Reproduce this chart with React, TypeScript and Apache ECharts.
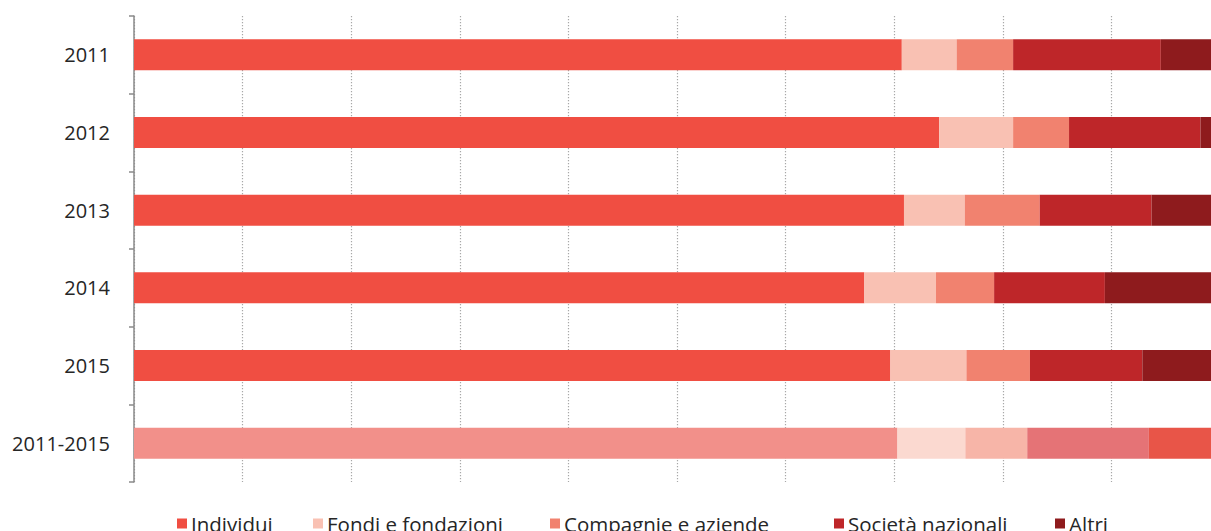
import React, { useEffect, useRef } from "react";
import * as echarts from "echarts";

const categories = ["2011", "2012", "2013", "2014", "2015", "2011-2015"];
const seriesNames = ["Individui", "Fondi e fondazioni", "Compagnie e aziende", "Società nazionali", "Altri"];
const individui = [70.7, 74.15, 70.9, 67.25, 69.65, 70.3];
const fondi = [5.05, 6.8, 5.6, 6.6, 7.0, 6.25];
const compagnie = [5.2, 5.15, 6.9, 5.35, 5.85, 5.7];
const societa = [13.6, 12.1, 10.3, 10.2, 10.35, 11.2];
const altri = [5.45, 1.8, 6.3, 10.6, 7.15, 6.55];
const xTicks = [0, 10, 20, 30, 40, 50, 60, 70, 80, 90, 100];

const mainColors = ["#F04E42", "#F9C1B3", "#F1826F", "#BE2629", "#8E1B1D"];
const summaryColors = ["#F2908A", "#FBD9D0", "#F7B5A8", "#E57376", "#E85548"];
const legendLeft = [177, 313, 550, 834, 1055];

export default function App() {
  const ref = useRef<HTMLDivElement>(null);
  useEffect(() => {
    if (!ref.current) return;
    const chart = echarts.init(ref.current, null, { renderer: "svg" });
    const values = [individui, fondi, compagnie, societa, altri];
    const font = "'Open Sans', sans-serif";
    chart.setOption({
      animation: false,
      backgroundColor: "#ffffff",
      grid: { left: 134, right: 0, top: 16, bottom: 49, containLabel: false },
      xAxis: {
        type: "value",
        min: xTicks[0],
        max: xTicks[xTicks.length - 1],
        interval: 10,
        axisLine: { show: false },
        axisTick: { show: false },
        axisLabel: { show: false },
        splitLine: { show: true, lineStyle: { type: [1.2, 1.8], color: "#a8a8a8", width: 1.2 } },
      },
      yAxis: {
        type: "category",
        inverse: true,
        data: categories,
        axisLine: { show: true, lineStyle: { color: "#8a8a8a", width: 1.5 } },
        axisTick: { show: true, length: 5, lineStyle: { color: "#8a8a8a", width: 1.5 } },
        axisLabel: { fontFamily: font, fontSize: 20, color: "#262626", margin: 24 },
      },
      legend: seriesNames.map((n, i) => ({
        data: [n],
        left: legendLeft[i],
        top: 513,
        icon: "rect",
        itemWidth: 10,
        itemHeight: 10,
        padding: 0,
        itemGap: 0,
        selectedMode: false,
        textStyle: { fontFamily: font, fontSize: 20.5, color: "#262626", padding: [0, 0, 0, -1] },
      })),
      series: seriesNames.map((n, i) => ({
        name: n,
        type: "bar",
        stack: "total",
        barWidth: 31,
        itemStyle: { color: mainColors[i] },
        data: values[i].map((v, j) =>
          j === categories.length - 1 ? { value: v, itemStyle: { color: summaryColors[i] } } : v
        ),
      })),
    });
    return () => chart.dispose();
  }, []);
  return (
    <div
      style={{ position: "fixed", left: 0, top: 0, width: 1211, height: 531, overflow: "hidden", background: "#fff" }}
    >
      <div ref={ref} style={{ width: 1220, height: 531 }} />
    </div>
  );
}
